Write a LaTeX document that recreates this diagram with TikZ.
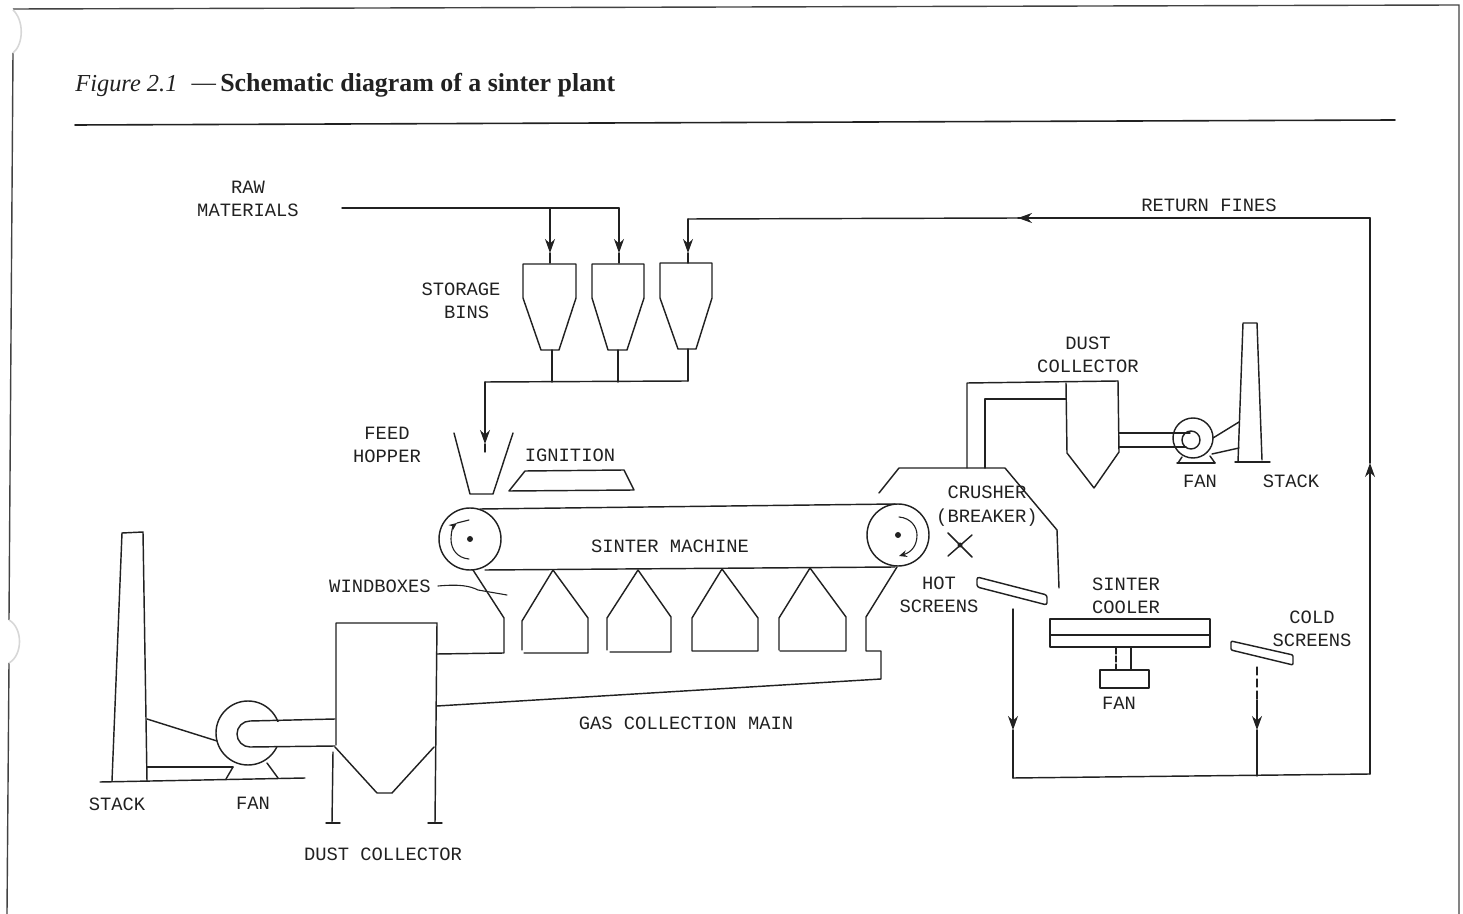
\documentclass[tikz,border=0pt]{standalone}
\usepackage{fontspec}
\setmainfont{Liberation Serif}
\setmonofont{Liberation Mono}
\usetikzlibrary{arrows.meta}
\definecolor{ink}{gray}{0.13}
\tikzset{
  x=0.5pt,y=-0.5pt,
  ln/.style={draw=ink,line width=0.72pt,line join=round,line cap=round},
  thin ln/.style={draw=ink,line width=0.55pt,line join=round,line cap=round},
  frame/.style={draw=ink!85,line width=0.7pt},
  punch/.style={draw=ink!18,line width=0.8pt},
  arr/.style={ln,-{Stealth[length=7pt,width=5pt]}},
  lab/.style={font=\ttfamily\fontsize{9.4}{11.4}\selectfont,text=ink,inner sep=0pt,align=center},
}
\begin{document}
\begin{tikzpicture}
\useasboundingbox (0,0) rectangle (1463,914);
% page frame
\draw[frame] (13,9) -- (1459,5) -- (1459,914);
\draw[frame] (13,53) -- (9,620);
\draw[frame] (9,663) -- (7,914);
\draw[punch] (13,10) .. controls (24,20) and (24,44) .. (13,53);
\draw[punch] (9,620) .. controls (23,628) and (23,655) .. (9,663);
% title
\node[anchor=base west,inner sep=0pt,text=ink,font=\fontsize{12.2}{14}\selectfont] (title) at (75,92) {\textit{Figure 2.1}\hspace{7pt}\raisebox{0.5pt}{---}\hspace{2.2pt}{\fontsize{12.95}{14}\selectfont\textbf{Schematic diagram of a sinter plant}}};
\coordinate (ruleL) at (75,125); \coordinate (ruleR) at (1395,120);
\draw[ln,line width=0.8pt] (ruleL) -- (ruleR);
% labels
\node[lab] (rawm) at (248,199) {RAW\\MATERIALS};
\node[lab] (bins) at (461,301) {STORAGE\\\hspace*{0.6em}BINS};
\node[lab] (hopperl) at (387,445) {FEED\\HOPPER};
\node[lab] (ignl) at (570,455) {IGNITION};
\node[lab] (sml) at (670,546) {SINTER MACHINE};
\node[lab] (wbl) at (380,586) {WINDBOXES};
\node[lab] (hotl) at (939,595) {HOT\\SCREENS};
\node[lab] (crl) at (987,506) {CRUSHER\\[0.6pt](BREAKER)};
\node[lab] (dcr) at (1088,355) {DUST\\COLLECTOR};
\node[lab] (fanr) at (1200,481) {FAN};
\node[lab] (stackr) at (1291,481) {STACK};
\node[lab] (ccl) at (1126,596) {SINTER\\COOLER};
\node[lab] (fanc) at (1119,703) {FAN};
\node[lab] (csl) at (1312,629) {COLD\\SCREENS};
\node[lab] (rfl) at (1209,205) {RETURN FINES};
\node[lab] (gml) at (686,723) {GAS COLLECTION MAIN};
\node[lab] (stackl) at (117,804) {STACK};
\node[lab] (fanl) at (253,803) {FAN};
\node[lab] (dcl) at (383,854) {DUST COLLECTOR};
% flow coordinates
\coordinate (rawS) at (342,208);
\coordinate (raw1) at (550,208);
\coordinate (raw2) at (619,208);
\coordinate (bin1in) at (550,263);
\coordinate (bin2in) at (619,263);
\coordinate (bin3in) at (688,263);
\coordinate (bin1a) at (550,253);
\coordinate (bin2a) at (619,253);
\coordinate (bin3a) at (688,253);
\coordinate (out1) at (552,350);
\coordinate (out2) at (618,350);
\coordinate (out3) at (688,349);
\coordinate (col1) at (552,382);
\coordinate (col2) at (618,382);
\coordinate (col3) at (688,381);
\coordinate (colL) at (485,382);
\coordinate (feedA) at (485,444);
\coordinate (feedE) at (485,452);
\coordinate (retC) at (1370,218);
\coordinate (retA) at (1018,218);
\coordinate (retT) at (688,219);
\coordinate (upA) at (1370,463);
\coordinate (btmR) at (1370,774);
\coordinate (btmL) at (1013,778);
\coordinate (btmM) at (1257,776);
\coordinate (hotS) at (1013,609);
\coordinate (hotA) at (1013,730);
\coordinate (coldS) at (1257,667);
\coordinate (coldD) at (1257,700);
\coordinate (coldA) at (1257,730);
% raw materials and bins
\draw[ln] (rawS) -- (raw2);
\draw[arr] (raw1) -- (bin1a); \draw[ln] (bin1a) -- (bin1in);
\draw[arr] (raw2) -- (bin2a); \draw[ln] (bin2a) -- (bin2in);
\draw[arr] (retC) -- (retA);
\draw[ln] (retA) -- (retT);
\draw[arr] (retT) -- (bin3a); \draw[ln] (bin3a) -- (bin3in);
\draw[ln] (523,264) -- (576,264) -- (576,298) -- (559,350) -- (541,350) -- (523,298) -- cycle;
\draw[ln] (592,264) -- (644,264) -- (644,298) -- (627,350) -- (608,350) -- (592,298) -- cycle;
\draw[ln] (660,263) -- (712,263) -- (712,298) -- (696,349) -- (678,349) -- (660,298) -- cycle;
\draw[ln] (out1) -- (col1); \draw[ln] (out2) -- (col2); \draw[ln] (out3) -- (col3);
\draw[ln] (col3) -- (colL);
\draw[arr] (colL) -- (feedA); \draw[ln] (feedA) -- (feedE);
% feed hopper, ignition
\draw[ln] (454,433) -- (470,494) -- (493,494) -- (513,433);
\draw[ln] (509,491) -- (525,471) -- (624,470) -- (634,490) -- cycle;
% sinter machine
\draw[ln] (470,539) circle[radius=31];
\draw[ln] (898,535) circle[radius=31];
\draw[ln] (480,509) -- (895,504);
\draw[ln] (485,570) -- (895,567);
\fill[ink] (470,539) circle[radius=3];
\fill[ink] (898,535) circle[radius=3];
\draw[thin ln,-{Stealth[length=4pt,width=3.4pt]}] (469,559) .. controls (457,558) and (451,549) .. (451,539) .. controls (451,532) and (453,526) .. (457,523);
\draw[thin ln] (457,523) -- (469,520);
\draw[thin ln,-{Stealth[length=4pt,width=3.4pt]}] (899,517) .. controls (911,518) and (917,527) .. (917,535) .. controls (917,545) and (912,552) .. (899,556);
% windboxes
\draw[ln] (473,570) -- (504,618) -- (504,653) -- (437,654);
\draw[ln] (522,650) -- (522,621) -- (553,570) -- (588,618) -- (588,653) -- (524,653);
\draw[ln] (607,650) -- (607,618) -- (638,570) -- (671,617) -- (671,652) -- (610,652);
\draw[ln] (692,651) -- (692,618) -- (722,569) -- (758,618) -- (758,651) -- cycle;
\draw[ln] (779,650) -- (779,618) -- (810,568) -- (846,617) -- (846,651) -- (780,651);
\draw[ln] (897,567) -- (866,617) -- (866,651) -- (881,651) -- (881,679) -- (437,706);
\coordinate (wbS) at (438,586);
\coordinate (wbE) at (507,595);
\draw[thin ln] (wbS) .. controls (460,584) and (470,586) .. (478,590) -- (wbE);
% left dust collector
\draw[ln] (336,745) -- (336,623) -- (437,623) -- (435,823);
\draw[ln] (335,747) -- (377,793) -- (392,793) -- (434,747);
\draw[ln] (333,752) -- (332,823);
\draw[ln] (326,823) -- (340,823);
\draw[ln] (428,823) -- (442,823);
% left stack and fan
\draw[ln] (112,781) -- (122,533) -- (143,532) -- (147,781);
\draw[ln] (100,782) -- (305,778);
\draw[ln] (248,733) circle[radius=32];
\fill[white] (262,722) rectangle (284,746);
\draw[ln] (335,719) -- (250,721) arc[start angle=-90,end angle=-270,radius=13] -- (335,746);
\draw[ln] (147,719) -- (217,741);
\draw[ln] (147,767) -- (233,767);
\draw[ln] (233,767) -- (226,779);
\draw[ln] (267,763) -- (278,778);
% right hood and ducts
\draw[ln] (879,493) -- (899,468) -- (1005,468) -- (1057,530) -- (1059,588);
\draw[ln] (967,468) -- (967,383) -- (1118,381);
\draw[ln] (985,468) -- (985,399) -- (1066,399);
\draw[ln] (1066,383) -- (1067,453) -- (1094,488) -- (1119,452) -- (1118,381);
\draw[ln] (1119,433) -- (1190,433);
\draw[ln] (1119,447) -- (1186,447);
\draw[ln] (1193,438) circle[radius=20];
\draw[ln] (1191,440) circle[radius=9];
\draw[ln] (1177,463) -- (1215,463);
\draw[ln] (1178,463) -- (1182,457);
\draw[ln] (1210,456) -- (1215,463);
\draw[ln] (1213,438) -- (1239,422);
\draw[ln] (1212,454) -- (1239,448);
\draw[ln] (1238,462) -- (1243,323) -- (1257,323) -- (1262,460);
\draw[ln] (1235,462) -- (1270,462);
% crusher
\draw[ln] (948,533) -- (972,557);
\draw[ln] (948,556) -- (972,535);
\fill[ink] (960,545) circle[radius=2.5];
% screens
\draw[ln,rounded corners=1.2pt] (977,577) -- (1047,595) -- (1047,605) -- (977,587) -- cycle;
\draw[ln,rounded corners=0.6pt] (1231,641) -- (1293,655) -- (1293,665) -- (1231,650) -- cycle;
% cooler
\draw[ln] (1050,619) rectangle (1210,647);
\draw[ln] (1050,635) -- (1210,635);
\coordinate (cf1a) at (1116,648); \coordinate (cf1b) at (1116,670);
\coordinate (cf2a) at (1131,648); \coordinate (cf2b) at (1131,670);
\draw[thin ln,dash pattern=on 3pt off 1pt] (cf1a) -- (cf1b);
\draw[thin ln] (cf2a) -- (cf2b);
\draw[ln] (1100,670) rectangle (1149,688);
% product lines
\draw[arr] (hotS) -- (hotA); \draw[ln] (hotA) -- (btmL);
\draw[ln] (btmL) -- (btmR);
\draw[thin ln,dash pattern=on 4pt off 2pt] (coldS) -- (coldD);
\draw[arr] (coldD) -- (coldA); \draw[ln] (coldA) -- (btmM);
\draw[arr] (btmR) -- (upA);
\draw[ln] (upA) -- (retC) -- (retA);
\end{tikzpicture}
\end{document}
